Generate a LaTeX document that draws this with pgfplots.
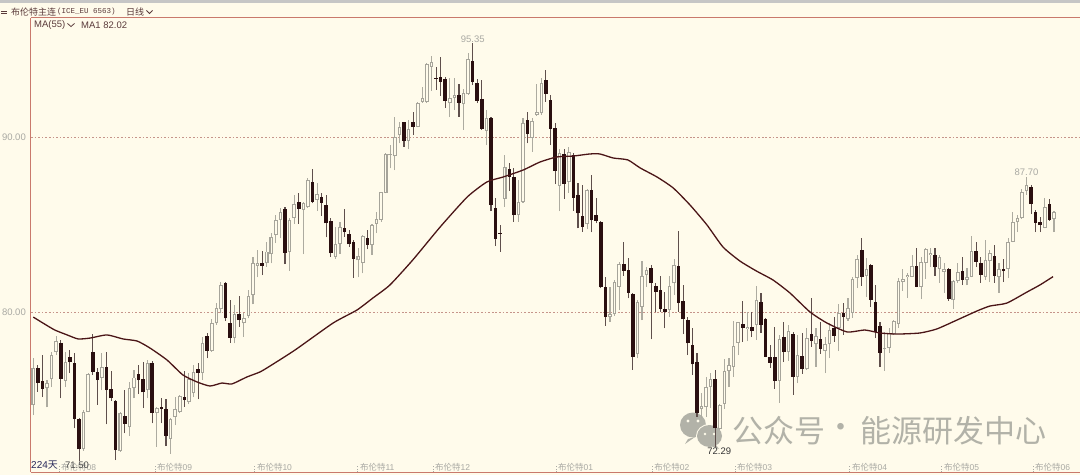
\documentclass[border=0pt]{standalone}
\usepackage{pgfplots}
\usepackage{pgfplotstable}
\usepackage{fontspec}
\pgfplotsset{compat=1.18}
\setmainfont{Liberation Sans}
\setmonofont{Liberation Mono}
\newfontfamily\cjk{Noto Sans CJK SC}
\definecolor{bg}{HTML}{FFFBEB}
\definecolor{frame}{HTML}{C9796C}
\definecolor{griddot}{HTML}{C6948A}
\definecolor{dn}{HTML}{2A0F10}
\definecolor{dnw}{HTML}{5F4F4C}
\definecolor{upe}{HTML}{A6A49A}
\definecolor{upw}{HTML}{ADABA0}
\definecolor{maline}{HTML}{4A1517}
\definecolor{lab}{HTML}{A9A9A3}
\definecolor{ttl}{HTML}{5A3A3A}
\definecolor{wm}{HTML}{B2B2A8}

% i open high low close, rising days
\pgfplotstableread{
i o h l c
0 74.69 77.35 74.11 76.78
3 75.64 76.11 74.55 75.96
4 76.17 77.73 75.70 77.54
5 77.70 78.65 77.54 78.36
7 76.06 77.73 75.70 77.16
11 72.15 74.40 72.07 74.30
12 74.30 76.50 74.27 76.46
15 76.25 77.64 75.54 76.84
19 72.07 74.30 72.02 74.21
21 73.41 76.02 72.91 75.64
22 75.64 76.69 75.07 76.25
25 75.54 77.26 75.07 77.07
27 74.25 74.59 72.30 74.53
30 72.73 73.93 71.89 73.87
31 73.98 75.16 73.54 74.44
32 74.30 75.26 74.21 75.22
34 74.87 76.50 74.74 76.15
35 75.35 76.97 75.13 76.55
37 76.50 78.59 76.11 78.21
39 77.79 79.58 77.73 79.35
40 79.35 80.50 79.26 80.21
41 80.15 81.73 79.93 81.54
44 78.50 80.40 78.21 79.87
46 79.35 79.93 78.59 79.64
47 79.77 81.26 79.64 80.91
48 80.97 83.16 80.44 82.78
49 82.63 83.54 81.98 82.82
51 82.78 84.02 82.59 83.45
52 83.30 84.50 82.78 84.30
53 84.40 85.54 83.93 85.26
54 85.26 85.93 84.21 85.70
56 83.45 85.35 82.36 85.26
57 85.35 86.69 85.03 86.15
59 85.83 86.30 83.31 86.21
60 85.98 87.64 85.93 87.54
62 86.40 87.35 85.79 86.73
66 83.16 84.87 83.05 83.89
67 83.89 85.16 83.31 84.84
71 82.95 83.64 81.98 83.22
72 82.78 84.40 82.21 84.34
74 83.83 85.03 83.26 84.95
75 85.03 85.73 84.50 85.30
76 85.26 86.87 85.16 86.84
77 86.82 89.07 86.78 89.01
78 88.95 89.54 88.21 89.01
79 88.91 91.13 88.11 90.02
80 90.11 90.87 89.64 90.59
82 89.79 90.97 89.30 90.44
84 90.59 92.02 90.55 91.96
85 92.02 92.84 91.96 92.21
86 92.02 94.21 91.96 94.15
87 94.02 94.63 92.65 94.27
91 91.93 93.39 91.13 92.21
92 92.21 93.39 91.54 92.40
94 91.87 92.73 90.40 92.53
95 92.44 94.78 92.40 94.46
99 90.36 91.54 89.54 91.10
103 86.46 88.97 86.02 88.27
106 85.54 87.54 85.16 86.27
107 86.30 91.07 86.25 90.78
109 89.93 91.07 89.16 90.93
110 91.26 93.01 91.22 91.41
111 91.35 93.35 91.26 93.07
115 87.20 89.30 85.77 89.07
117 87.45 89.45 86.82 89.16
121 85.01 87.01 84.73 86.97
126 79.70 81.45 79.45 79.89
127 79.87 81.83 79.79 81.70
128 81.45 82.87 80.11 82.74
132 77.58 80.69 77.35 80.59
133 80.30 82.93 79.54 82.06
134 82.13 82.59 81.45 82.40
139 80.11 82.06 79.73 81.49
140 81.64 83.01 80.97 82.67
146 74.46 75.37 73.94 74.63
147 74.57 76.29 74.00 75.71
148 75.71 76.51 74.51 76.17
150 73.31 74.74 73.26 74.69
151 74.74 77.31 74.46 76.63
152 76.63 77.37 75.71 76.97
153 76.86 79.49 76.29 78.06
154 78.23 79.45 77.54 79.43
156 79.03 80.00 78.34 79.14
158 79.26 81.49 78.40 80.69
163 76.06 78.69 74.80 78.46
165 77.71 79.26 77.20 78.91
167 76.29 78.69 75.94 77.54
169 76.74 79.09 76.69 78.51
171 78.17 79.09 76.86 78.63
173 77.77 78.57 76.51 78.17
174 78.17 79.37 77.37 78.97
176 79.09 80.46 77.77 79.94
178 79.60 80.80 79.49 80.23
179 79.94 82.00 79.66 81.89
180 81.94 83.26 81.37 83.03
182 82.06 83.09 80.86 82.46
186 77.89 78.86 76.63 77.94
187 77.94 79.09 77.66 78.80
188 78.74 79.54 78.69 79.49
189 79.31 81.94 79.09 81.77
190 81.71 82.46 81.20 81.89
191 82.00 82.23 80.80 82.11
192 82.00 83.26 82.00 82.63
194 81.43 83.14 80.74 82.86
195 82.80 83.66 81.89 83.60
196 83.26 83.66 82.57 83.37
198 82.46 83.26 81.66 83.14
199 82.29 82.80 81.09 82.46
201 80.69 81.83 80.17 81.77
202 81.77 82.80 81.66 82.29
204 81.83 82.51 81.54 82.00
205 82.00 84.34 81.98 83.49
208 82.00 84.11 81.83 82.97
209 82.91 83.54 81.71 83.37
211 82.00 82.80 81.09 82.46
213 82.46 84.23 81.94 84.00
214 84.00 85.71 83.98 85.14
215 85.14 85.54 84.57 85.37
216 85.37 87.03 85.31 86.86
217 86.91 87.70 86.69 87.26
221 84.80 86.51 84.78 86.00
223 85.31 85.77 84.57 85.71
}\upT

% i open high low close, falling days
\pgfplotstableread{
i o h l c
1 76.78 76.97 75.45 75.96
2 76.06 77.54 75.13 75.60
6 78.25 78.40 75.07 76.17
8 77.45 77.83 76.50 77.13
9 77.07 77.64 73.35 73.90
10 73.90 73.95 71.50 72.15
13 77.70 78.74 76.40 76.59
14 76.59 76.78 74.69 76.11
16 76.84 77.70 73.58 75.54
17 75.58 76.63 74.93 75.07
18 74.91 74.95 71.54 72.11
20 74.07 75.54 73.07 73.60
23 76.44 76.97 75.31 76.11
24 76.15 77.16 74.50 75.41
26 77.07 77.22 73.64 74.25
28 74.59 75.07 73.64 74.47
29 74.47 75.01 72.34 72.93
33 75.13 76.63 74.59 74.97
36 76.73 77.10 75.01 76.50
38 78.63 78.78 77.35 77.79
42 81.67 81.73 79.50 79.64
43 79.39 80.69 78.25 78.53
45 79.87 80.93 79.16 79.54
50 82.82 83.49 82.11 82.63
55 85.87 85.98 82.74 83.39
58 86.27 86.78 85.03 85.89
61 87.41 88.15 86.21 86.30
63 86.55 86.78 85.50 86.25
64 86.11 86.69 84.27 85.07
65 85.22 85.35 83.16 83.35
68 84.82 85.87 84.30 84.57
69 84.46 84.69 83.73 83.87
70 83.98 84.11 81.96 83.05
73 84.23 84.69 83.58 83.83
81 90.84 90.87 89.45 89.79
83 90.84 91.45 90.11 90.59
88 93.39 93.98 92.69 93.33
89 93.45 94.59 92.36 93.16
90 93.30 93.45 91.67 92.06
93 92.40 93.01 91.16 91.96
96 94.36 95.35 92.97 93.13
97 93.07 93.30 91.93 92.06
98 92.19 93.26 90.40 90.46
100 91.07 91.13 85.77 86.11
101 85.93 86.50 83.77 84.17
102 84.51 84.97 83.45 84.46
104 88.15 88.50 86.93 87.73
105 87.73 88.21 85.16 85.54
108 90.97 91.45 89.64 90.17
112 93.26 93.83 92.02 92.46
113 92.11 92.40 89.54 90.46
114 90.50 90.78 87.31 88.07
116 89.01 89.31 86.46 87.31
118 88.97 89.07 85.79 86.53
119 86.69 87.39 84.78 85.64
120 85.47 87.26 84.59 84.87
122 86.95 87.83 84.55 85.24
123 85.54 86.50 85.07 85.20
124 85.16 85.18 81.35 81.41
125 81.41 82.02 79.22 79.70
129 82.73 83.98 82.07 82.36
130 82.40 83.07 80.78 81.10
131 81.01 81.07 76.69 77.45
135 82.50 82.69 78.44 81.64
136 81.50 81.64 80.02 81.13
137 81.26 82.06 80.02 80.17
138 80.19 81.16 79.07 80.02
141 82.65 84.65 80.02 80.50
142 80.65 81.54 78.74 79.58
143 79.53 79.73 77.54 78.21
144 78.11 79.07 76.40 77.01
145 77.14 77.66 74.00 74.23
149 76.17 76.69 72.29 73.37
155 79.31 80.63 78.29 79.09
157 79.14 80.00 78.57 78.91
159 80.57 81.09 78.80 79.26
160 79.60 79.66 77.40 77.43
161 77.43 78.11 76.80 77.09
162 77.43 79.14 75.60 76.06
164 78.57 79.43 77.14 77.71
166 78.74 78.86 75.26 76.29
168 77.49 78.80 76.46 76.74
170 78.74 80.80 78.00 78.34
172 78.46 79.43 77.60 77.89
175 79.09 79.71 78.29 78.63
177 79.94 80.51 78.69 79.71
181 83.54 84.23 81.49 82.00
183 82.69 82.72 80.29 80.69
184 80.57 81.54 78.51 78.86
185 79.20 79.43 76.86 77.66
193 82.63 83.66 81.40 81.43
197 83.26 83.66 82.06 82.57
200 82.46 82.51 80.63 80.74
203 82.34 83.14 81.54 81.83
206 83.49 84.00 82.57 82.86
207 82.80 83.14 81.66 82.11
210 83.20 83.83 81.66 82.06
212 82.46 83.03 81.71 82.34
218 87.14 87.26 85.60 86.17
219 85.71 85.83 84.57 85.09
220 85.14 85.43 84.57 84.97
222 86.17 86.46 85.20 85.26
}\dnT

\pgfplotsset{
  bar/.style n args={2}{forget plot, draw=none, mark=none,
    error bars/y dir=plus, error bars/y explicit, error bars/error mark=none,
    error bars/error bar style={draw=#1, solid, line width=#2}},
}

\begin{document}
\begin{tikzpicture}[x=1pt,y=1pt]
\useasboundingbox (0,0) rectangle (1080,475);
\fill[bg] (0,0) rectangle (1080,475);
\fill[gray!45] (0,472) rectangle (1080,475);
% watermark, beneath the candles
\fill[wm] (693,50) ellipse (13 and 12.5);
\fill[wm] (688,36) -- (685,31) -- (695,38) -- cycle;
\fill[bg] (709.5,39) ellipse (13.5 and 12);
\fill[wm] (709.5,39) ellipse (12.5 and 11);
\fill[wm] (716,30) -- (719,26) -- (711,29) -- cycle;
\fill[bg] (688,54) circle (1.6) (698,54) circle (1.6);
\fill[bg] (705,41) circle (1.4) (714,41) circle (1.4);
\node[anchor=west, inner sep=0pt, text=wm, font=\fontsize{31}{36}\selectfont] at (732,44) {{\cjk 公众号}};
\node[anchor=center, inner sep=0pt, text=wm, font=\fontsize{31}{36}\selectfont] at (841,44) {{\cjk ·}};
\node[anchor=west, inner sep=0pt, text=wm, font=\fontsize{31}{36}\selectfont] at (860,44) {{\cjk 能源研发中心}};
\begin{axis}[
  at={(31pt,3pt)}, anchor=south west,
  scale only axis, width=1049pt, height=454pt,
  xmin=-0.5, xmax=228.69, ymin=70.857, ymax=96.8,
  axis y line=left, axis x line=bottom,
  axis line style={draw=frame, line width=1pt, -},
  ytick={80,90},
  yticklabel style={font=\fontsize{9.5}{11}\selectfont, text=lab, inner sep=1.5pt,
    /pgf/number format/fixed, /pgf/number format/fixed zerofill,
    /pgf/number format/precision=2, /pgf/number format/assume math mode=true},
  ytick style={draw=none},
  ymajorgrids,
  grid style={draw=griddot, line width=0.9pt, dash pattern=on 1.7pt off 1.9pt},
  xtick={5.6,26.6,48.4,70.9,87.3,114.2,135.2,153.3,178.4,198.5,218.4},
  xticklabels={{\cjk 布伦特}08,{\cjk 布伦特}09,{\cjk 布伦特}10,{\cjk 布伦特}11,{\cjk 布伦特}12,{\cjk 布伦特}01,{\cjk 布伦特}02,{\cjk 布伦特}03,{\cjk 布伦特}04,{\cjk 布伦特}05,{\cjk 布伦特}06},
  xticklabel style={anchor=south west, font=\fontsize{8.5}{10}\selectfont, text=lab, inner sep=1pt, xshift=1pt, yshift=0pt},
  xtick align=inside, major tick length=7pt,
  xtick style={draw=lab, line width=0.7pt, dash pattern=on 1pt off 1.5pt},
  clip=true,
]
% wicks
\addplot[bar={upw}{1.1pt}] table[x=i, y=l, y error plus expr=\thisrow{h}-\thisrow{l}] {\upT};
\addplot[bar={dnw}{1.1pt}] table[x=i, y=l, y error plus expr=\thisrow{h}-\thisrow{l}] {\dnT};
% rising bodies: an outline and its inside
\addplot[bar={upe}{3.6pt}] table[x=i, y=o, y error plus expr=\thisrow{c}-\thisrow{o}] {\upT};
\addplot[bar={bg}{1.5pt}] table[x=i, y expr=\thisrow{o}+0.05, y error plus expr={max(\thisrow{c}-\thisrow{o}-0.1,0)}] {\upT};
% falling bodies
\addplot[bar={dn}{3.6pt}] table[x=i, y=c, y error plus expr=\thisrow{o}-\thisrow{c}] {\dnT};
% MA(55)
\addplot[maline, line width=1.3pt, no marks, forget plot, smooth, tension=0.35] coordinates {
(0,79.71)(2.1,79.37)(4.7,78.97)(7.4,78.69)(9.8,78.46)(12.4,78.51)(16.1,78.69)(19.6,78.46)(22.7,78.34)
(25.5,77.94)(29.2,77.26)(32.7,76.40)(35.8,76.00)(38.6,75.77)(41.2,75.94)(43.4,75.89)(46.7,76.29)
(49.5,76.57)(51.7,76.91)(57.2,77.83)(65.5,79.37)(70.7,80.11)(74.2,80.80)(77.9,81.54)(82.9,82.97)
(88.9,84.86)(94.8,86.57)(99.1,87.43)(102.6,87.71)(107,88.11)(110.7,88.57)(114.4,88.86)(117.9,88.91)
(121.6,89.03)(123.8,89.03)(126.7,88.80)(129.9,88.69)(132.6,88.23)(136.3,87.71)(139.8,87.09)(143.5,86.11)
(147.2,84.97)(150.7,83.71)(154.4,82.91)(158,82.34)(161.6,81.83)(165.3,81.09)(169.7,80.00)(173.4,79.37)
(177.8,78.86)(181.7,78.97)(185,78.80)(188.7,78.74)(193.7,78.80)(197.4,79.03)(201.8,79.54)(206.2,80.06)
(209,80.34)(212.7,80.51)(217.1,81.14)(219.9,81.54)(222.8,82.02)
};
\node[anchor=south, font=\fontsize{9.5}{11}\selectfont, text=lab, inner sep=1pt] at (axis cs:96,95.35) {95.35};
\node[anchor=south, font=\fontsize{9.5}{11}\selectfont, text=lab, inner sep=1pt] at (axis cs:217,87.70) {87.70};
\node[anchor=north, font=\fontsize{9.5}{11}\selectfont, text=black!80, inner sep=1pt, xshift=4pt] at (axis cs:149,72.29) {72.29};
\node[anchor=north, font=\fontsize{9.5}{11}\selectfont, text=black!70, inner sep=1pt, xshift=-2pt] at (axis cs:10,71.50) {71.50};
\end{axis}
\draw[frame, line width=1pt] (31,457) -- (1080,457);
% header
\draw[ttl, line width=0.7pt] (1,461.5) -- (7,461.5) (1,464) -- (7,464);
\node[anchor=west, inner sep=0pt, text=ttl, font=\fontsize{9}{10}\selectfont] at (11,463) {{\cjk 布伦特主连}};
\node[anchor=west, inner sep=0pt, text=ttl, font=\ttfamily\fontsize{7.5}{9}\selectfont] at (57,463) {(ICE\_EU 6563)};
\node[anchor=west, inner sep=0pt, text=ttl, font=\fontsize{9}{10}\selectfont] at (126,463) {{\cjk 日线}};
\draw[ttl, line width=0.8pt] (146.5,464.5) -- (149.5,461.5) -- (152.5,464.5);
\node[anchor=west, inner sep=0pt, text=ttl, font=\fontsize{9.5}{11}\selectfont] at (34,450) {MA(55)};
\draw[ttl, line width=0.8pt] (67.5,451.5) -- (71,448.5) -- (74.5,451.5);
\node[anchor=west, inner sep=0pt, text=ttl, font=\fontsize{9.5}{11}\selectfont] at (81,450) {MA1 82.02};
\node[anchor=west, inner sep=0pt, text={rgb,255:red,40;green,40;blue,90}, font=\fontsize{10}{11}\selectfont] at (31,10) {224{\cjk 天}};
\end{tikzpicture}
\end{document}
